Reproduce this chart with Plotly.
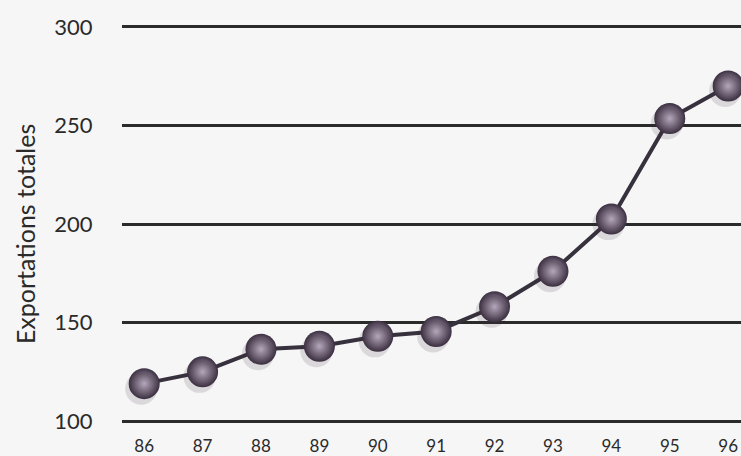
import plotly.graph_objects as go

years = [86, 87, 88, 89, 90, 91, 92, 93, 94, 95, 96]
year_labels = ["86", "87", "88", "89", "90", "91", "92", "93", "94", "95", "96"]
exports = [119, 125, 136.5, 138, 143, 145.5, 158, 176, 202.5, 253.5, 270]
y_ticks = [100, 150, 200, 250, 300]
y_tick_labels = ["100", "150", "200", "250", "300"]

FONT = "Lato, 'Open Sans', sans-serif"
X_RANGE = [85.62, 96.22]
Y_RANGE = [96, 304]
# shadow axes: same data, ranges nudged a few pixels (down-left)
dx = 3 * (X_RANGE[1] - X_RANGE[0]) / 619
dy = 5 * (Y_RANGE[1] - Y_RANGE[0]) / 410

fig = go.Figure()
# soft shadow of the spheres
fig.add_trace(go.Scatter(
    x=years, y=exports, mode="markers", xaxis="x2", yaxis="y2",
    marker=dict(size=32, color="rgba(60,50,60,0.15)", line=dict(width=0)),
    hoverinfo="skip", showlegend=False,
))
fig.add_trace(go.Scatter(
    x=years, y=exports, mode="lines+markers",
    line=dict(color="#37313d", width=4),
    marker=dict(size=31, color="#3a2f40",
                gradient=dict(type="radial", color="#cbbdd2"),
                line=dict(width=0)),
    hoverinfo="x+y", showlegend=False,
))

fig.update_layout(
    width=741, height=456,
    margin=dict(l=122, r=0, t=19, b=27),
    paper_bgcolor="#f6f6f6", plot_bgcolor="#f6f6f6",
    font=dict(family=FONT, color="#2a2a2a"),
    xaxis=dict(
        range=X_RANGE, tickmode="array", tickvals=years, ticktext=year_labels,
        showgrid=False, zeroline=False, showline=False, automargin=False,
        ticks="outside", ticklen=2, tickcolor="rgba(0,0,0,0)",
        tickfont=dict(size=17, color="#2a2a2a"),
    ),
    yaxis=dict(
        range=Y_RANGE, tickmode="array", tickvals=y_ticks, ticktext=y_tick_labels,
        showgrid=True, gridcolor="#2b2b2b", gridwidth=3, zeroline=False, showline=False,
        automargin=False,
        ticks="outside", ticklen=24, tickcolor="rgba(0,0,0,0)",
        tickfont=dict(size=22, color="#2a2a2a"),
    ),
    xaxis2=dict(range=[X_RANGE[0] + dx, X_RANGE[1] + dx], overlaying="x",
                visible=False, showgrid=False),
    yaxis2=dict(range=[Y_RANGE[0] + dy, Y_RANGE[1] + dy], overlaying="y",
                visible=False, showgrid=False),
    annotations=[dict(
        text="Exportations totales", xref="paper", yref="paper",
        x=-0.157, y=0.475, xanchor="center", yanchor="middle",
        showarrow=False, textangle=-90,
        font=dict(size=25, color="#2a2a2a", family=FONT),
    )],
)

fig.write_html("out.html")
